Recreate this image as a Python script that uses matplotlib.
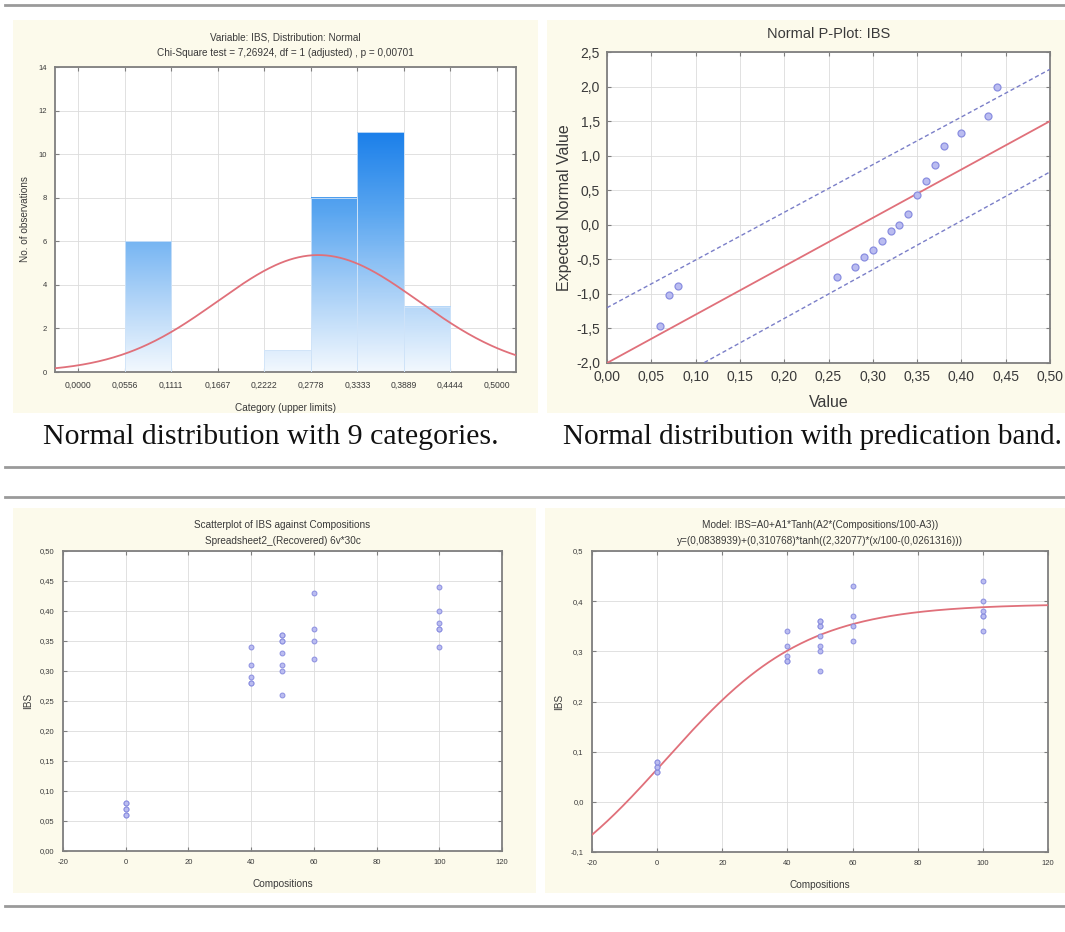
import numpy as np
import matplotlib
matplotlib.use("Agg")
import matplotlib.pyplot as plt
from matplotlib.patches import Rectangle
from matplotlib.lines import Line2D
from matplotlib.ticker import FuncFormatter, FixedLocator
from matplotlib.colors import LinearSegmentedColormap

plt.rcParams['font.family'] = ['Liberation Sans', 'DejaVu Sans']
plt.rcParams['axes.unicode_minus'] = False

# ---------------- data ----------------
# IBS values grouped by composition
compositions = [0, 40, 50, 60, 100]
ibs_c0 = [0.06, 0.06, 0.07, 0.07, 0.08, 0.08]
ibs_c40 = [0.28, 0.28, 0.29, 0.31, 0.34]
ibs_c50 = [0.26, 0.30, 0.31, 0.33, 0.35, 0.35, 0.36, 0.36]
ibs_c60 = [0.32, 0.35, 0.37, 0.43]
ibs_c100 = [0.34, 0.37, 0.37, 0.38, 0.40, 0.44]

# histogram (9 categories, upper limits)
bin_edges = [0.0, 0.0556, 0.1111, 0.1667, 0.2222, 0.2778, 0.3333, 0.3889, 0.4444, 0.5000]
bin_counts = [0, 6, 0, 0, 1, 8, 11, 3, 0]
hist_tick_labels = ['0,0000', '0,0556', '0,1111', '0,1667', '0,2222', '0,2778',
                    '0,3333', '0,3889', '0,4444', '0,5000']

# normal P-plot
pp_values = [0.06, 0.07, 0.08, 0.26, 0.28, 0.29, 0.30, 0.31, 0.32, 0.33,
             0.34, 0.35, 0.36, 0.37, 0.38, 0.40, 0.43, 0.44]
pp_expected = [-1.46, -1.02, -0.88, -0.76, -0.61, -0.46, -0.36, -0.23, -0.09, -0.01,
               0.16, 0.43, 0.64, 0.86, 1.14, 1.33, 1.57, 2.00]
pp_fit = (-2.0, 7.0)          # intercept, slope
pp_band_upper = (-1.20, 6.90)
pp_band_lower = (-2.77, 7.07)

# tanh model parameters
A0, A1, A2, A3 = 0.0838939, 0.310768, 2.32077, 0.0261316

# ---------------- helpers ----------------
W, H = 1065, 932
fig = plt.figure(figsize=(W / 100, H / 100), dpi=100)
fig.patch.set_facecolor('white')

def fx(px):
    return px / W

def fy(py):
    return 1 - py / H

def add_axes(l, t, r, b):
    ax = fig.add_axes([fx(l), fy(b), (r - l) / W, (b - t) / H])
    ax.set_zorder(2)
    return ax

cream = '#fcfaeb'
for (l, t, r, b) in [(13, 20, 538, 413), (547, 20, 1065, 413),
                     (13, 508, 536, 893), (545, 508, 1065, 893)]:
    fig.patches.append(Rectangle((fx(l), fy(b)), (r - l) / W, (b - t) / H,
                                 transform=fig.transFigure, facecolor=cream,
                                 edgecolor='none', zorder=-5))

for py in [5, 467, 497, 906]:
    fig.lines.append(Line2D([fx(5), fx(1065)], [fy(py), fy(py)], transform=fig.transFigure,
                            color='#9a9a9a', lw=2.0, zorder=-4))

frame_col = '#7f7f7f'
grid_col = '#dcdcdc'
txt_col = '#3a3a3a'

def style(ax, tick_size, pad=4):
    ax.set_facecolor('white')
    for s in ax.spines.values():
        s.set_color(frame_col)
        s.set_linewidth(1.3)
    ax.tick_params(direction='in', top=True, right=True, length=3, width=0.8,
                   color=frame_col, labelsize=tick_size, labelcolor=txt_col, pad=pad)
    ax.grid(True, color=grid_col, lw=0.6)
    ax.set_axisbelow(True)

# ---------------- histogram ----------------
ax1 = add_axes(55, 67, 516, 372)
style(ax1, 5.5, pad=6)
ax1.tick_params(axis='x', labelsize=6.2)
ymax_col = 11.0
cmap = LinearSegmentedColormap.from_list('statblue', ['#f2f8fe', '#a9d0f7', '#5aa6f0', '#1c80ea'])
for i, c in enumerate(bin_counts):
    if c <= 0:
        continue
    x0, x1 = bin_edges[i], bin_edges[i + 1]
    grad = np.linspace(0, c / ymax_col, 100).reshape(-1, 1)
    ax1.imshow(grad, extent=[x0, x1, 0, c], origin='lower', aspect='auto',
               cmap=cmap, vmin=0, vmax=1, zorder=2, interpolation='bilinear')
    ax1.add_patch(Rectangle((x0, 0), x1 - x0, c, facecolor='none',
                            edgecolor='#cfe3f8', lw=0.6, zorder=3))
all_ibs = np.array(ibs_c0 + ibs_c40 + ibs_c50 + ibs_c60 + ibs_c100)
mu, sd = all_ibs.mean(), all_ibs.std(ddof=1)
n = len(all_ibs)
bw = bin_edges[1] - bin_edges[0]
xs = np.linspace(-0.0278, 0.5228, 300)
ax1.plot(xs, n * bw * np.exp(-0.5 * ((xs - mu) / sd) ** 2) / (sd * np.sqrt(2 * np.pi)),
         color='#e0707a', lw=1.3, zorder=4)
ax1.set_xlim(-0.0278, 0.5228)
ax1.set_ylim(0, 14)
ax1.xaxis.set_major_locator(FixedLocator(bin_edges))
ax1.set_xticklabels(hist_tick_labels)
ax1.set_yticks(np.arange(0, 15, 2))
ax1.set_title('Variable: IBS, Distribution: Normal\nChi-Square test = 7,26924, df = 1 (adjusted) , p = 0,00701',
              fontsize=7.2, color=txt_col, linespacing=1.7, pad=8)
ax1.set_xlabel('Category (upper limits)', fontsize=7.2, color=txt_col, labelpad=10)
ax1.set_ylabel('No. of observations', fontsize=7.2, color=txt_col, labelpad=6)

# ---------------- P-plot ----------------
ax2 = add_axes(607, 52, 1050, 363)
style(ax2, 10, pad=5)
xl = np.array([0, 0.5])
ax2.plot(xl, pp_fit[0] + pp_fit[1] * xl, color='#e0707a', lw=1.3, zorder=3)
ax2.plot(xl, pp_band_upper[0] + pp_band_upper[1] * xl, color='#7a7ec8', lw=1.0,
         ls=(0, (3, 2)), zorder=3)
ax2.plot(xl, pp_band_lower[0] + pp_band_lower[1] * xl, color='#7a7ec8', lw=1.0,
         ls=(0, (3, 2)), zorder=3)
ax2.plot(pp_values, pp_expected, 'o', ms=5, mfc='#babcf0', mec='#8a8ee0', mew=0.9, zorder=4)
ax2.set_xlim(0, 0.5)
ax2.set_ylim(-2.0, 2.5)
ax2.set_xticks(np.arange(0, 0.501, 0.05))
ax2.set_yticks(np.arange(-2.0, 2.51, 0.5))
ax2.xaxis.set_major_formatter(FuncFormatter(lambda v, p: ('%.2f' % v).replace('.', ',')))
ax2.yaxis.set_major_formatter(FuncFormatter(lambda v, p: ('%.1f' % (0 if abs(v) < 1e-9 else v)).replace('.', ',')))
ax2.set_title('Normal P-Plot: IBS', fontsize=10.5, color=txt_col, pad=10)
ax2.set_xlabel('Value', fontsize=11.5, color=txt_col, labelpad=8)
ax2.set_ylabel('Expected Normal Value', fontsize=11.5, color=txt_col, labelpad=3)

# ---------------- scatter ----------------
groups = [ibs_c0, ibs_c40, ibs_c50, ibs_c60, ibs_c100]

ax3 = add_axes(63, 551, 502, 851)
style(ax3, 5.5, pad=6)
for c, g in zip(compositions, groups):
    ax3.plot([c] * len(g), g, 'o', ms=3.5, mfc='#babcf0', mec='#8a8ee0', mew=0.7, zorder=4)
ax3.set_xlim(-20, 120)
ax3.set_ylim(0, 0.5)
ax3.set_xticks(np.arange(-20, 121, 20))
ax3.set_yticks(np.arange(0, 0.501, 0.05))
ax3.yaxis.set_major_formatter(FuncFormatter(lambda v, p: ('%.2f' % v).replace('.', ',')))
ax3.set_title('Scatterplot of IBS against Compositions\nSpreadsheet2_(Recovered) 6v*30c',
              fontsize=7.2, color=txt_col, linespacing=1.7, pad=5)
ax3.set_xlabel('Compositions', fontsize=7.2, color=txt_col, labelpad=9)
ax3.set_ylabel('IBS', fontsize=7.2, color=txt_col, labelpad=5)

# ---------------- model fit ----------------
ax4 = add_axes(592, 551, 1048, 852)
style(ax4, 5.5, pad=6)
xm = np.linspace(-20, 120, 300)
ax4.plot(xm, A0 + A1 * np.tanh(A2 * (xm / 100 - A3)), color='#e0707a', lw=1.3, zorder=3)
for c, g in zip(compositions, groups):
    ax4.plot([c] * len(g), g, 'o', ms=3.5, mfc='#babcf0', mec='#8a8ee0', mew=0.7, zorder=4)
ax4.set_xlim(-20, 120)
ax4.set_ylim(-0.1, 0.5)
ax4.set_xticks(np.arange(-20, 121, 20))
ax4.set_yticks(np.arange(-0.1, 0.501, 0.1))
ax4.yaxis.set_major_formatter(FuncFormatter(lambda v, p: ('%.1f' % (0 if abs(v) < 1e-9 else v)).replace('.', ',')))
ax4.set_title('Model: IBS=A0+A1*Tanh(A2*(Compositions/100-A3))\n'
              'y=(0,0838939)+(0,310768)*tanh((2,32077)*(x/100-(0,0261316)))',
              fontsize=7.2, color=txt_col, linespacing=1.7, pad=5)
ax4.set_xlabel('Compositions', fontsize=7.2, color=txt_col, labelpad=9)
ax4.set_ylabel('IBS', fontsize=7.2, color=txt_col, labelpad=5)

# ---------------- captions ----------------
fig.text(fx(271), fy(437), 'Normal distribution with 9 categories.', ha='center', va='center',
         fontsize=21.5, family='Liberation Serif', color='#111111')
fig.text(fx(812), fy(437), 'Normal distribution with predication band.', ha='center', va='center',
         fontsize=21, family='Liberation Serif', color='#111111')

fig.savefig('out.png', dpi=100, facecolor='white')
